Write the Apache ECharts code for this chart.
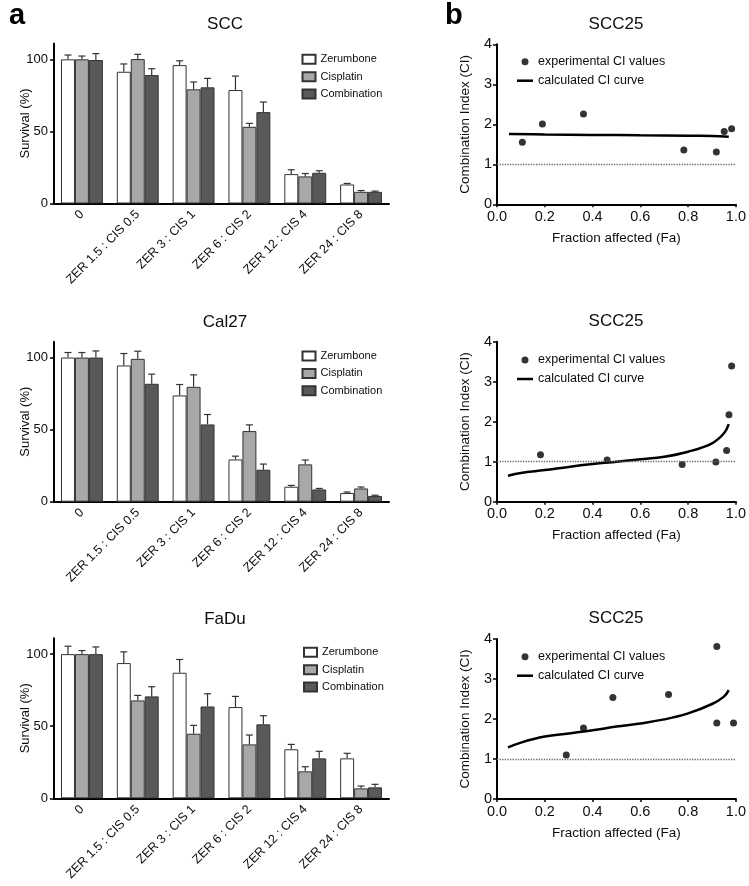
<!DOCTYPE html>
<html>
<head>
<meta charset="utf-8">
<script src="https://cdn.jsdelivr.net/npm/echarts@6/dist/echarts.min.js"></script>
<style>
html,body{margin:0;padding:0;background:#fff;}
#chart{width:749px;height:886px;}
</style>
</head>
<body>
<div id="chart"></div>
<script>
// ---------- DATA ----------
const categories = ['0', 'ZER 1.5 : CIS 0.5', 'ZER 3 : CIS 1', 'ZER 6 : CIS 2', 'ZER 12 : CIS 4', 'ZER 24 : CIS 8'];
const seriesNames = ['Zerumbone', 'Cisplatin', 'Combination'];
const survivalTicks = [0, 50, 100];

// SCC
const sccZer = [100, 91.4, 96.0, 78.7, 20.4, 13.2];
const sccZerErr = [3.0, 5.4, 3.0, 9.7, 3.0, 0.7];
const sccCis = [100, 100.2, 79.2, 53.2, 18.8, 8.1];
const sccCisErr = [2.3, 3.3, 5.1, 2.4, 2.0, 0.9];
const sccComb = [99.5, 89.1, 80.6, 63.4, 21.3, 8.1];
const sccCombErr = [4.5, 4.4, 6.2, 7.0, 1.4, 0.5];

// Cal27
const calZer = [100, 94.5, 73.7, 29.3, 10.4, 6.0];
const calZerErr = [3.5, 8.3, 7.6, 2.3, 0.9, 0.7];
const calCis = [100, 99.1, 79.7, 49.0, 25.9, 9.2];
const calCisErr = [3.5, 5.3, 8.3, 4.3, 3.0, 1.0];
const calComb = [100, 81.8, 53.6, 22.2, 8.5, 4.0];
const calCombErr = [4.6, 6.7, 6.9, 3.9, 0.7, 0.5];

// FaDu
const faduZer = [100, 93.8, 87.1, 63.3, 34.0, 27.7];
const faduZerErr = [5.5, 7.8, 9.2, 7.4, 3.4, 3.5];
const faduCis = [100, 67.9, 44.8, 37.4, 18.7, 6.9];
const faduCisErr = [2.5, 3.5, 5.8, 6.5, 3.2, 1.6];
const faduComb = [100, 70.7, 63.7, 51.3, 27.7, 7.6];
const faduCombErr = [5.0, 6.7, 8.8, 6.0, 4.9, 2.1];

// Combination index panels (SCC25 x3)
const ci1Fa = [0.106, 0.19, 0.362, 0.782, 0.918, 0.951, 0.982];
const ci1Val = [1.55, 2.01, 2.26, 1.36, 1.31, 1.82, 1.89];
const ci1CurveFa = [0.05, 0.2, 0.4, 0.6, 0.8, 0.9, 0.97];
const ci1CurveVal = [1.76, 1.745, 1.735, 1.725, 1.715, 1.705, 1.69];

const ci2Fa = [0.182, 0.461, 0.775, 0.916, 0.961, 0.971, 0.982];
const ci2Val = [1.175, 1.04, 0.93, 0.99, 1.28, 2.175, 3.39];
const ci2CurveFa = [0.046, 0.1, 0.2, 0.3, 0.4, 0.5, 0.6, 0.7, 0.8, 0.9, 0.95, 0.97];
const ci2CurveVal = [0.65, 0.72, 0.79, 0.87, 0.94, 1.0, 1.06, 1.125, 1.25, 1.46, 1.71, 1.94];

const ci3Fa = [0.29, 0.362, 0.485, 0.718, 0.92, 0.92, 0.99];
const ci3Val = [1.1, 1.775, 2.54, 2.61, 3.81, 1.9, 1.9];
const ci3CurveFa = [0.046, 0.1, 0.2, 0.3, 0.4, 0.5, 0.6, 0.7, 0.8, 0.9, 0.95, 0.97];
const ci3CurveVal = [1.29, 1.41, 1.56, 1.64, 1.72, 1.81, 1.89, 1.99, 2.14, 2.375, 2.56, 2.72];

// ---------- BUILD ----------
const FONT = 'Liberation Sans, Arial, Helvetica, sans-serif';
const TXT = '#0d0d0d';
const fills = ['#ffffff', '#a8a8a8', '#595959'];

const barPanels = [
  {title: 'SCC', vals: [sccZer, sccCis, sccComb], errs: [sccZerErr, sccCisErr, sccCombErr], zeroY: 203.5, titleY: 16, legendTop: 53.3, legendLeft: 301.5},
  {title: 'Cal27', vals: [calZer, calCis, calComb], errs: [calZerErr, calCisErr, calCombErr], zeroY: 501.7, titleY: 313.8, legendTop: 350, legendLeft: 301.5},
  {title: 'FaDu', vals: [faduZer, faduCis, faduComb], errs: [faduZerErr, faduCisErr, faduCombErr], zeroY: 798.3, titleY: 610.7, legendTop: 646.3, legendLeft: 303}
];
const ciPanels = [
  {fa: ci1Fa, v: ci1Val, cfa: ci1CurveFa, cv: ci1CurveVal, zeroY: 204.3, titleY: 16.2, legendTop: 54.7},
  {fa: ci2Fa, v: ci2Val, cfa: ci2CurveFa, cv: ci2CurveVal, zeroY: 501.7, titleY: 312.5, legendTop: 353},
  {fa: ci3Fa, v: ci3Val, cfa: ci3CurveFa, cv: ci3CurveVal, zeroY: 799, titleY: 610.3, legendTop: 649.7}
];

const grids = [], xAxes = [], yAxes = [], series = [], titles = [], legends = [];

const BAR_H = 160, BAR_W = 335, BAR_L = 54;
const CAT_GAP = 0.25;

barPanels.forEach((p) => {
  const gi = grids.length;
  grids.push({left: BAR_L, top: p.zeroY - BAR_H, width: BAR_W, height: BAR_H});
  xAxes.push({
    type: 'category', gridIndex: gi, data: categories, boundaryGap: true,
    axisLine: {lineStyle: {color: '#000', width: 2}},
    axisTick: {alignWithLabel: true, length: 4, lineStyle: {color: '#000', width: 1.5}, interval: 0},
    axisLabel: {rotate: 45, interval: 0, fontSize: 12.5, color: TXT, fontFamily: FONT, margin: 9}
  });
  yAxes.push({
    type: 'value', gridIndex: gi, min: 0, max: 111,
    name: 'Survival (%)', nameLocation: 'middle', nameGap: 22, nameMoveOverlap: false,
    nameTextStyle: {fontSize: 13, color: TXT, fontFamily: FONT},
    axisLine: {show: true, lineStyle: {color: '#000', width: 2}},
    axisTick: {show: true, length: 4, customValues: survivalTicks, lineStyle: {color: '#000', width: 1.5}},
    axisLabel: {customValues: survivalTicks, fontSize: 13, color: TXT, fontFamily: FONT, margin: 6},
    splitLine: {show: false}
  });
  seriesNames.forEach((nm, k) => {
    series.push({
      type: 'bar', name: nm, xAxisIndex: gi, yAxisIndex: gi,
      data: p.vals[k], barGap: '0%', barCategoryGap: (CAT_GAP * 100) + '%',
      itemStyle: {color: fills[k], borderColor: '#333', borderWidth: 1},
      emphasis: {disabled: true}, z: 3
    });
  });
  const errData = [];
  seriesNames.forEach((nm, k) => {
    p.vals[k].forEach((v, i) => errData.push([i, k, v, v + p.errs[k][i]]));
  });
  series.push({
    type: 'custom', xAxisIndex: gi, yAxisIndex: gi, data: errData, z: 2, silent: true,
    encode: {x: 0, y: [2, 3]},
    renderItem: function (params, api) {
      const cat = api.value(0), k = api.value(1), val = api.value(2), top = api.value(3);
      const band = api.size([1, 0])[0];
      const bw = band * (1 - CAT_GAP) / 3;
      const c = api.coord([cat, val]);
      const t = api.coord([cat, top]);
      const x = c[0] + (k - 1) * bw;
      const cap = 3.5;
      const st = {stroke: '#333', lineWidth: 1.2};
      return {type: 'group', children: [
        {type: 'line', shape: {x1: x, y1: c[1], x2: x, y2: t[1]}, style: st},
        {type: 'line', shape: {x1: x - cap, y1: t[1], x2: x + cap, y2: t[1]}, style: st}
      ]};
    }
  });
  titles.push({text: p.title, left: 225, top: p.titleY, textAlign: 'center', padding: 0,
    textStyle: {fontSize: 17, fontWeight: 'normal', color: TXT, fontFamily: FONT}});
  legends.push({
    data: seriesNames, orient: 'vertical', left: p.legendLeft, top: p.legendTop,
    icon: 'rect', itemWidth: 13, itemHeight: 9, itemGap: 5.4, padding: 0,
    textStyle: {fontSize: 11, color: TXT, fontFamily: FONT, lineHeight: 12},
    selectedMode: false
  });
});

const CI_H = 160, CI_W = 239, CI_L = 497;
ciPanels.forEach((p) => {
  const gi = grids.length;
  grids.push({left: CI_L, top: p.zeroY - CI_H, width: CI_W, height: CI_H});
  xAxes.push({
    type: 'value', gridIndex: gi, min: 0, max: 1, interval: 0.2,
    name: 'Fraction affected (Fa)', nameLocation: 'middle', nameGap: 27,
    nameTextStyle: {fontSize: 13.5, color: TXT, fontFamily: FONT},
    axisLine: {show: true, onZero: false, lineStyle: {color: '#000', width: 2}},
    axisTick: {show: true, length: 3, lineStyle: {color: '#000', width: 1.5}},
    axisLabel: {fontSize: 14.5, color: TXT, fontFamily: FONT, margin: 5, formatter: v => v.toFixed(1)},
    splitLine: {show: false}
  });
  yAxes.push({
    type: 'value', gridIndex: gi, min: 0, max: 4, interval: 1,
    name: 'Combination Index (CI)', nameLocation: 'middle', nameGap: 25,
    nameTextStyle: {fontSize: 13.5, color: TXT, fontFamily: FONT},
    axisLine: {show: true, onZero: false, lineStyle: {color: '#000', width: 2}},
    axisTick: {show: true, length: 4, lineStyle: {color: '#000', width: 1.5}},
    axisLabel: {fontSize: 14.5, color: TXT, fontFamily: FONT, margin: 5},
    splitLine: {show: false}
  });
  series.push({
    type: 'scatter', name: 'experimental CI values', xAxisIndex: gi, yAxisIndex: gi,
    data: p.fa.map((f, i) => [f, p.v[i]]), symbolSize: 7,
    itemStyle: {color: '#000'}, z: 4, emphasis: {disabled: true},
    markLine: {
      silent: true, symbol: 'none', label: {show: false},
      lineStyle: {type: 'dotted', color: '#666', width: 1.3},
      data: [[{coord: [0, 1]}, {coord: [1, 1]}]]
    }
  });
  series.push({
    type: 'line', name: 'calculated CI curve', xAxisIndex: gi, yAxisIndex: gi,
    data: p.cfa.map((f, i) => [f, p.cv[i]]), smooth: 0.4, showSymbol: false,
    lineStyle: {color: '#000', width: 2.5}, z: 3, emphasis: {disabled: true}
  });
  titles.push({text: 'SCC25', left: 616, top: p.titleY, textAlign: 'center', padding: 0,
    textStyle: {fontSize: 17, fontWeight: 'normal', color: TXT, fontFamily: FONT}});
  legends.push({
    data: [
      {name: 'experimental CI values', icon: 'circle', itemStyle: {color: '#000'}},
      {name: 'calculated CI curve', icon: 'path://M0,0 L14,0 L14,2.2 L0,2.2 Z', itemStyle: {color: '#000'}}
    ],
    orient: 'vertical', left: 517, top: p.legendTop, itemWidth: 16, itemHeight: 7, itemGap: 5,
    padding: 0, textStyle: {fontSize: 12.5, color: TXT, fontFamily: FONT, lineHeight: 14},
    selectedMode: false
  });
});

titles.push({text: 'a', left: 9, top: 1, padding: 0, textStyle: {fontSize: 29, fontWeight: 'bold', color: '#000', fontFamily: FONT}});
titles.push({text: 'b', left: 445, top: 1, padding: 0, textStyle: {fontSize: 29, fontWeight: 'bold', color: '#000', fontFamily: FONT}});

const chart = echarts.init(document.getElementById('chart'), null, {renderer: 'canvas'});
chart.setOption({
  animation: false,
  backgroundColor: '#fff',
  textStyle: {fontFamily: FONT},
  title: titles,
  legend: legends,
  grid: grids,
  xAxis: xAxes,
  yAxis: yAxes,
  series: series
});
</script>
</body>
</html>
